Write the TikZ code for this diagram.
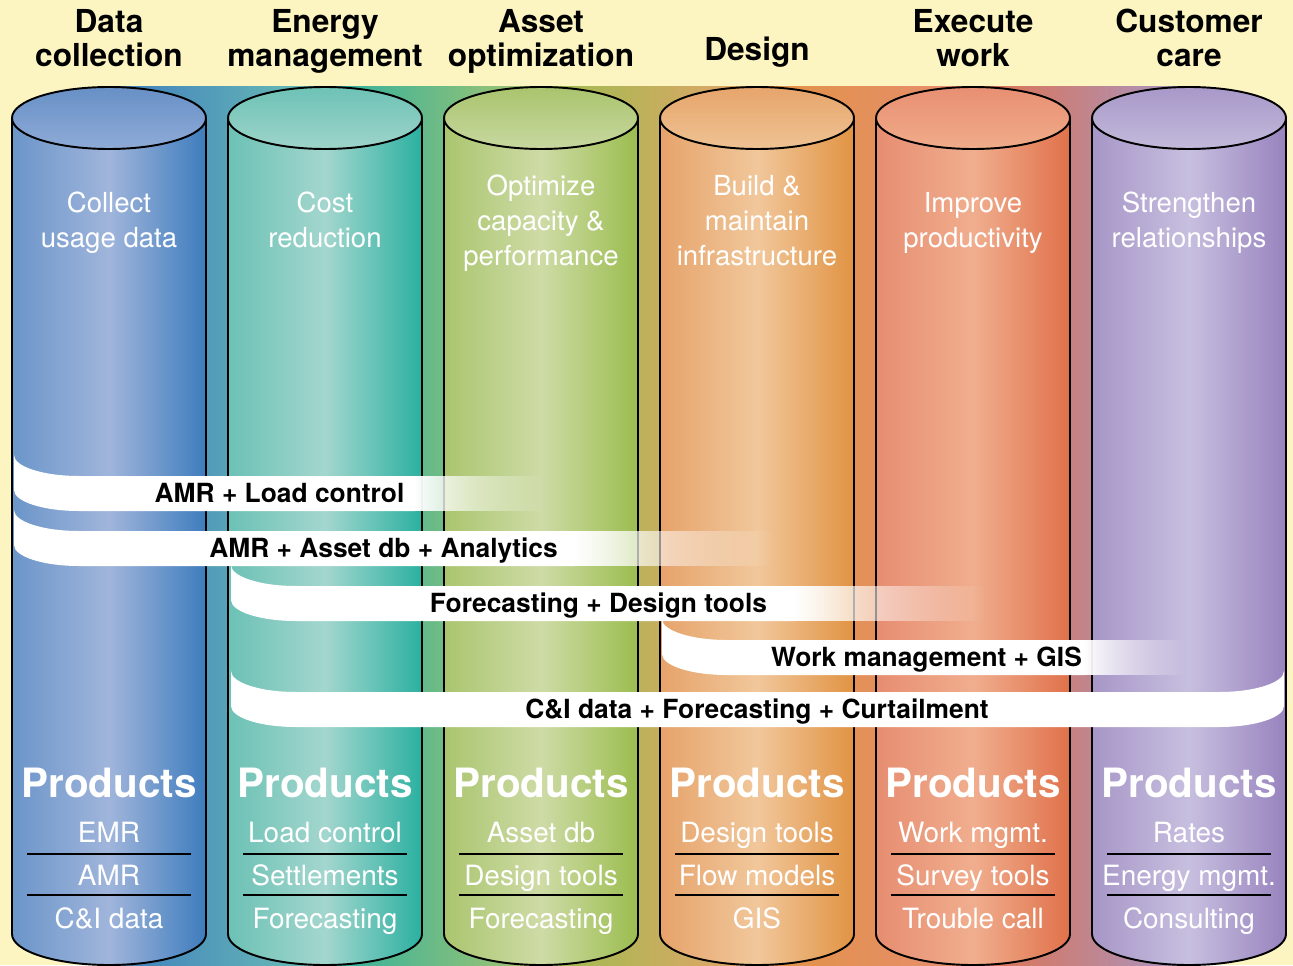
\documentclass[tikz,border=0pt]{standalone}
\usepackage{fontspec}
\setmainfont{TeX Gyre Heros}
\usetikzlibrary{fadings}

\definecolor{cream}{HTML}{FCF5C1}
% column colours: body left/middle/right, lid top/bottom
\definecolor{blueleft}{HTML}{6B95C9}
\definecolor{bluemid}{HTML}{A0B5DB}
\definecolor{blueright}{HTML}{3E7CBD}
\definecolor{bluetop}{HTML}{6790C6}
\definecolor{bluebot}{HTML}{8FABD7}
\definecolor{tealleft}{HTML}{6CC1B5}
\definecolor{tealmid}{HTML}{A3D6CE}
\definecolor{tealright}{HTML}{2BB0A0}
\definecolor{tealtop}{HTML}{6EC2B6}
\definecolor{tealbot}{HTML}{9ED4CA}
\definecolor{greenleft}{HTML}{AAC56E}
\definecolor{greenmid}{HTML}{CEDBA6}
\definecolor{greenright}{HTML}{9BBD4F}
\definecolor{greentop}{HTML}{A9C46D}
\definecolor{greenbot}{HTML}{C8D8A0}
\definecolor{orangeleft}{HTML}{E6A36A}
\definecolor{orangemid}{HTML}{F1C79B}
\definecolor{orangeright}{HTML}{E19343}
\definecolor{orangetop}{HTML}{E6A56B}
\definecolor{orangebot}{HTML}{EFC293}
\definecolor{redleft}{HTML}{E78D71}
\definecolor{redmid}{HTML}{F0AE8E}
\definecolor{redright}{HTML}{E0714A}
\definecolor{redtop}{HTML}{E88F72}
\definecolor{redbot}{HTML}{F0AC8A}
\definecolor{purpleleft}{HTML}{A796C7}
\definecolor{purplemid}{HTML}{C7BFDF}
\definecolor{purpleright}{HTML}{9883BE}
\definecolor{purpletop}{HTML}{A898C9}
\definecolor{purplebot}{HTML}{C3BADB}

\tikzfading[name=bandfade, left color=transparent!0, right color=transparent!100]

\tikzset{
  outline/.style={draw=black, line width=1.1pt},
  head/.style={font=\fontsize{18}{19.8}\selectfont\bfseries, align=center, anchor=base, inner sep=0pt},
  aim/.style={text=white, font=\fontsize{15.7}{19.8}\selectfont, align=center, anchor=base, inner sep=0pt},
  prodtitle/.style={text=white, font=\fontsize{23}{23}\selectfont\bfseries, anchor=base, inner sep=0pt},
  item/.style={text=white, font=\fontsize{15.9}{18}\selectfont, anchor=base, inner sep=0pt},
  bandlabel/.style={font=\fontsize{15}{15}\selectfont\bfseries, anchor=base, inner sep=0pt},
  prodline/.style={line width=1pt},
}

\begin{document}
\begin{tikzpicture}[x=0.02cm, y=0.02cm]
  \useasboundingbox (0,0) rectangle (1293,965);
  \fill[cream] (0,0) rectangle (1293,965);
  % colour band behind the columns
  \foreach \ca/\cb [count=\k] in {blue/teal, teal/green, green/orange, orange/red, red/purple}
    \shade[left color=\ca right, right color=\cb left] ({109+216*(\k-1)},0) rectangle ({325+216*(\k-1)},878);

  % columns
  \foreach \c [count=\n] in {blue, teal, green, orange, red, purple} {
    \pgfmathsetmacro{\cx}{109+216*(\n-1)}
    \shade[left color=\c left, right color=\c right, middle color=\c mid]
      (\cx-97,847) -- (\cx-97,31) arc[start angle=180, end angle=360, x radius=97, y radius=31] -- (\cx+97,847) -- cycle;
    \draw[outline] (\cx-97,847) -- (\cx-97,31) arc[start angle=180, end angle=360, x radius=97, y radius=31] -- (\cx+97,847);
    \shade[top color=\c top, bottom color=\c bot, outline] (\cx,847) ellipse [x radius=97, y radius=31];
  }

  % ribbons that fade out
  \foreach \T/\xl/\fa/\fb in {510/14/415/545, 455/14/575/775, 400/231/795/985, 346/662/1085/1185} {
    \fill[white] (\xl,\T) arc[start angle=180, end angle=270, x radius=65, y radius=21] -- (\fa,\T-21)
      -- (\fa,\T-56) -- (\xl+65,\T-56) arc[start angle=270, end angle=180, x radius=65, y radius=21] -- cycle;
    \fill[white, path fading=bandfade] (\fa-1,\T-21) rectangle (\fb,\T-56);
  }
  % ribbon right across
  \fill[white] (231,294) arc[start angle=180, end angle=270, x radius=65, y radius=21] -- (1219,273)
    arc[start angle=270, end angle=360, x radius=65, y radius=21] -- (1284,259)
    arc[start angle=0, end angle=-90, x radius=65, y radius=21] -- (296,238)
    arc[start angle=270, end angle=180, x radius=65, y radius=21] -- cycle;

  \node[bandlabel] (amrload) at (279.5,462.5) {AMR + Load control};
  \node[bandlabel] (amrasset) at (383.5,407.5) {AMR + Asset db + Analytics};
  \node[bandlabel] (fcdesign) at (598.5,352.5) {Forecasting + Design tools};
  \node[bandlabel] (workgis) at (926.5,298.5) {Work management + GIS};
  \node[bandlabel] (cidata) at (757,246.5) {C\&I data + Forecasting + Curtailment};

  % texts of each column (base = last line)
  \foreach \hd/\hy/\aim/\ay/\pa/\pb/\pc [count=\n] in {
    {Data\\collection}/898/{Collect\\usage data}/718/EMR/AMR/{C\&I data},
    {Energy\\management}/898/{Cost\\reduction}/718/{Load control}/Settlements/Forecasting,
    {Asset\\optimization}/898/{Optimize\\capacity \&\\performance}/700/{Asset db}/{Design tools}/Forecasting,
    {Design}/904/{Build \&\\maintain\\infrastructure}/700/{Design tools}/{Flow models}/GIS,
    {Execute\\work}/898/{Improve\\productivity}/718/{Work mgmt.}/{Survey tools}/{Trouble call},
    {Customer\\care}/898/{Strengthen\\relationships}/718/Rates/{Energy mgmt.}/Consulting} {
    \pgfmathsetmacro{\cx}{109+216*(\n-1)}
    \node[head] (head\n) at (\cx,\hy) {\hd};
    \node[aim] (aim\n) at (\cx,\ay) {\aim};
    \node[prodtitle] (prod\n) at (\cx,168) {Products};
    \node[item] (prod\n a) at (\cx,123) {\pa};
    \node[item] (prod\n b) at (\cx,80) {\pb};
    \node[item] (prod\n c) at (\cx,37) {\pc};
    \draw[prodline] (\cx-82,111) -- (\cx+82,111);
    \draw[prodline] (\cx-82,70) -- (\cx+82,70);
  }
\end{tikzpicture}
\end{document}
